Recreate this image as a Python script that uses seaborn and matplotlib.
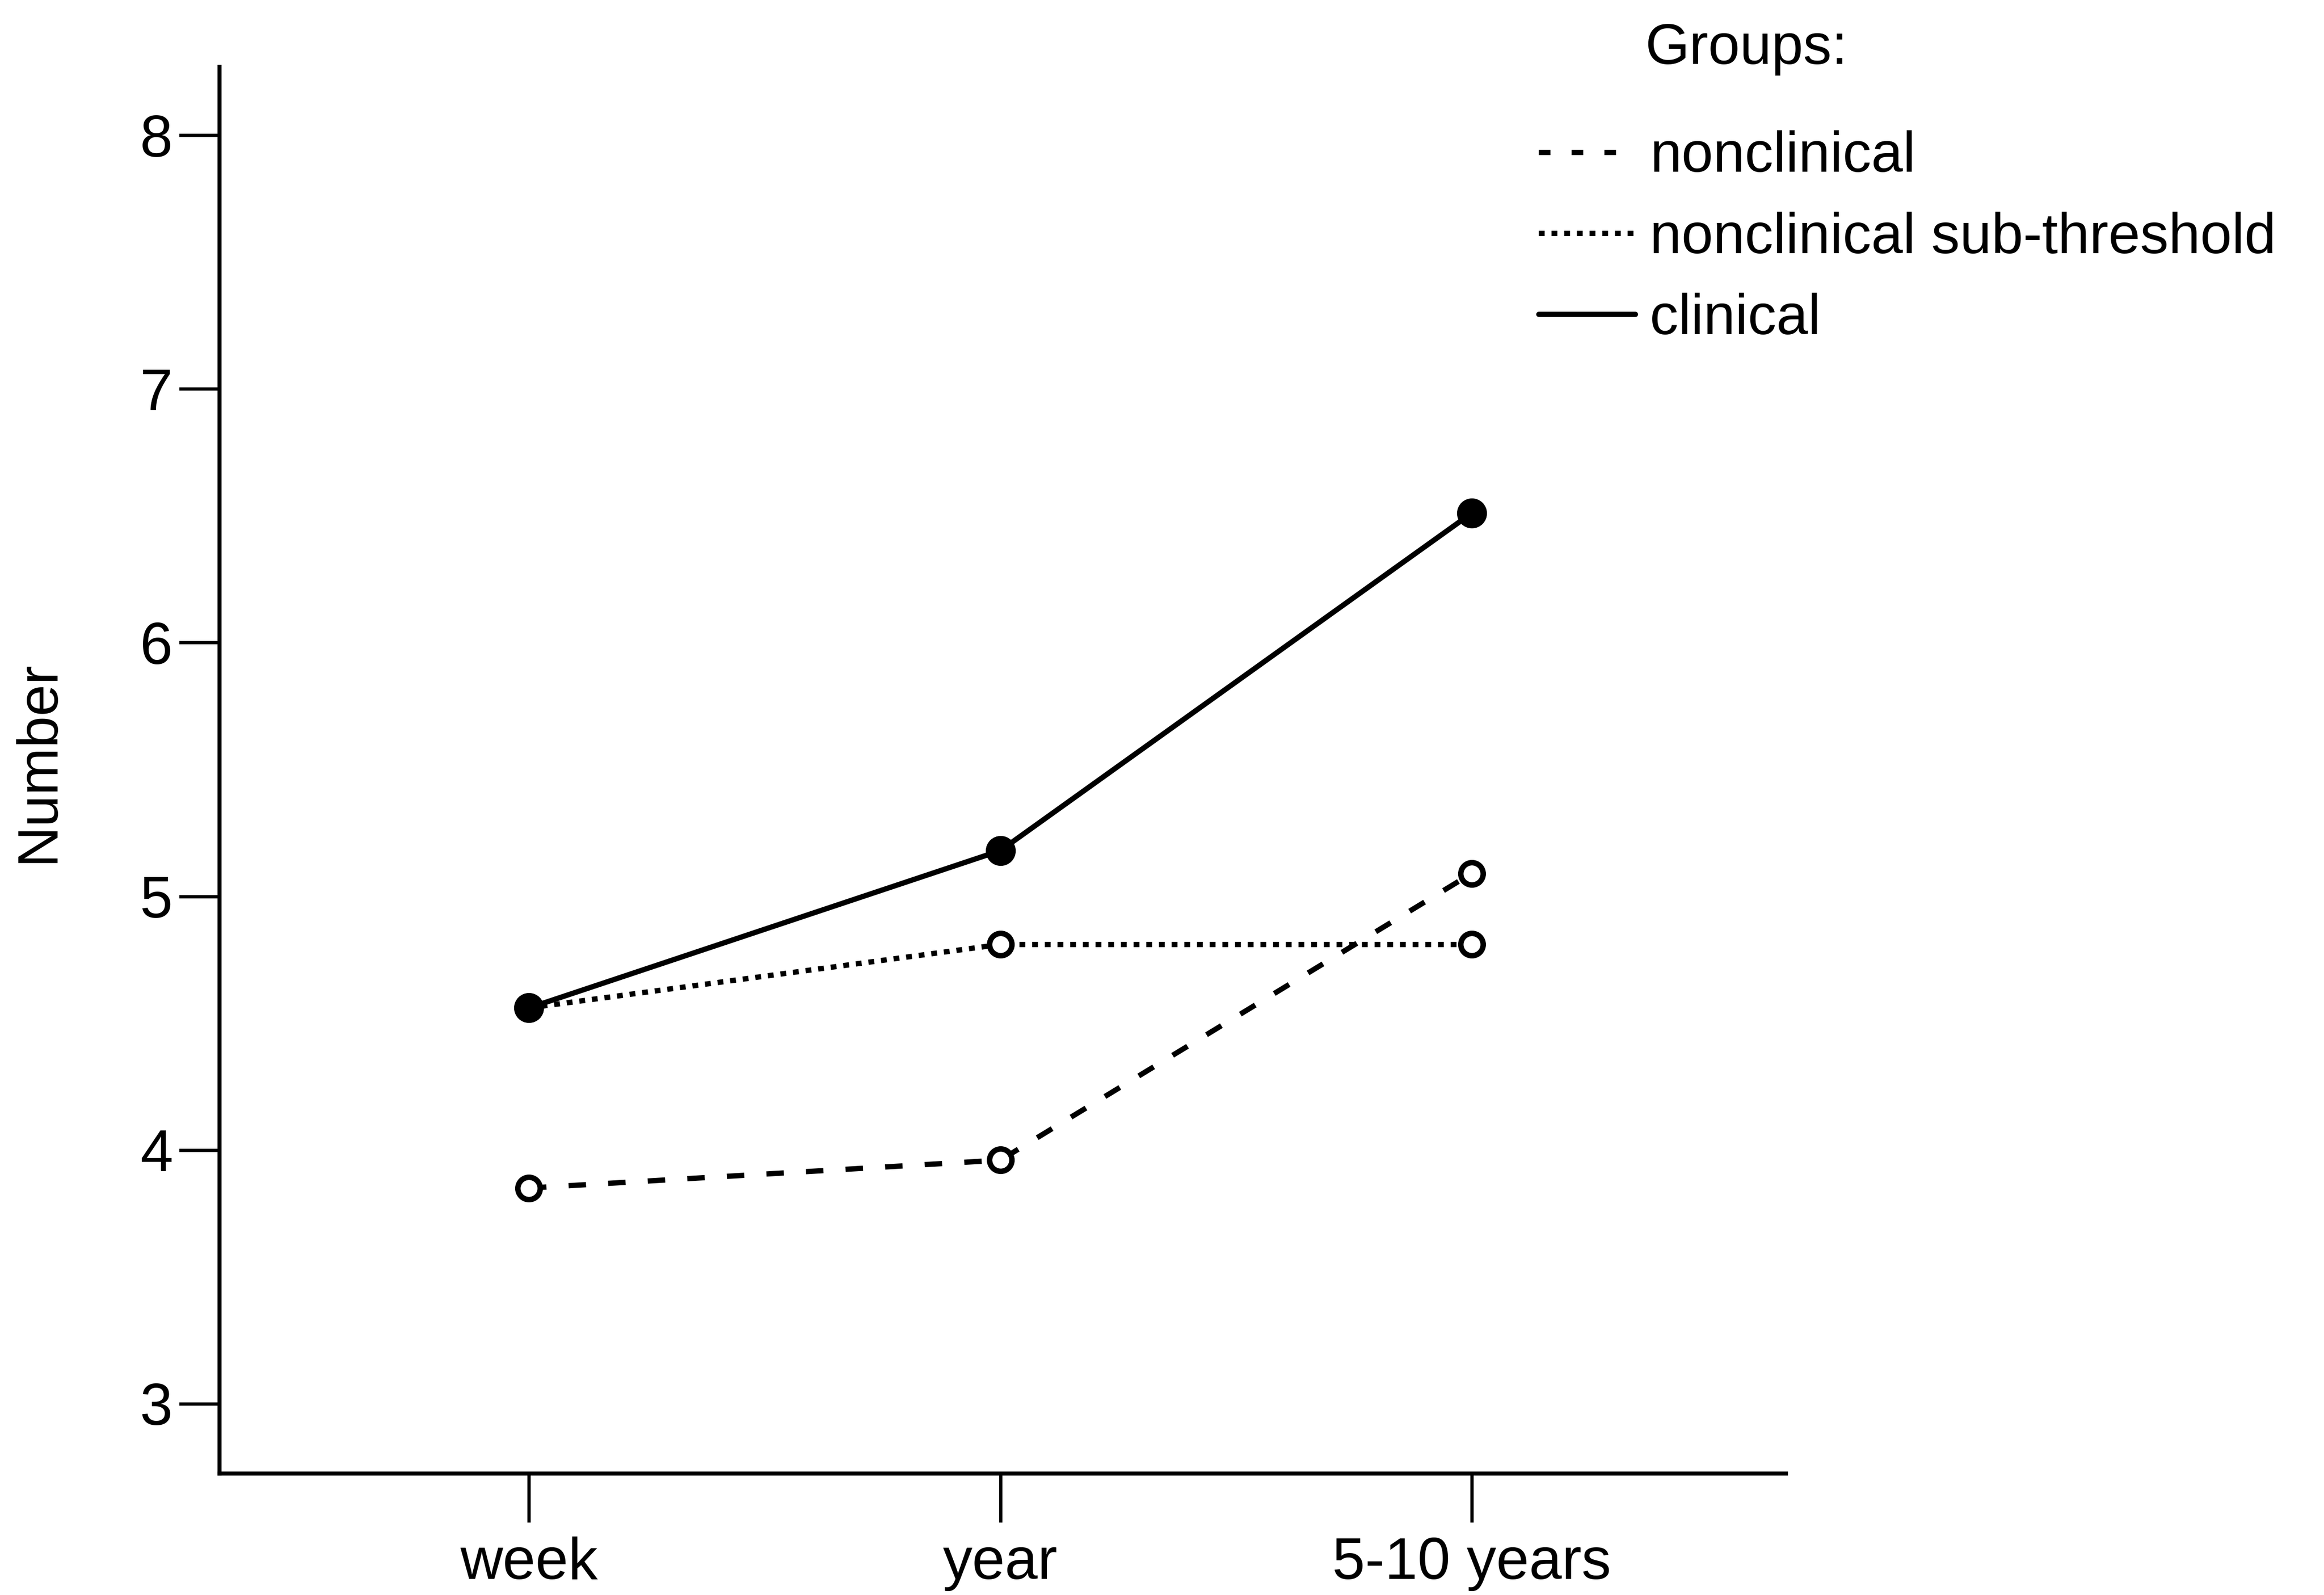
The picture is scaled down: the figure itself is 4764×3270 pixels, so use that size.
import matplotlib
matplotlib.use("Agg")
import matplotlib.pyplot as plt
import seaborn as sns
import pandas as pd
from matplotlib.lines import Line2D

# Data
time_points = ["week", "year", "5-10 years"]
nonclinical = [3.85, 3.96, 5.09]
subthreshold = [4.56, 4.81, 4.81]
clinical = [4.56, 5.18, 6.51]
y_ticks = [3, 4, 5, 6, 7, 8]
group_names = ["nonclinical", "nonclinical sub-threshold", "clinical"]

sns.set_theme(style="ticks")
plt.rcParams['font.family'] = ['Liberation Sans', 'DejaVu Sans']
plt.rcParams['text.color'] = 'black'
plt.rcParams['axes.labelcolor'] = 'black'

fig = plt.figure(figsize=(15.88, 10.9), dpi=300)
ax = fig.add_axes([0.0944, 0.0762, 0.6741, 0.882])

x_pos = list(range(len(time_points)))
df_nc = pd.DataFrame({"x": x_pos, "y": nonclinical})
df_st = pd.DataFrame({"x": x_pos, "y": subthreshold})
df_cl = pd.DataFrame({"x": x_pos, "y": clinical})

lw = 2.6
sns.lineplot(data=df_nc, x="x", y="y", ax=ax, color="black", lw=lw,
             marker="o", markersize=11, markerfacecolor="white",
             markeredgecolor="black", markeredgewidth=2.7, zorder=3)
ax.lines[-1].set_dashes((3.3, 4.2))
sns.lineplot(data=df_st, x="x", y="y", ax=ax, color="black", lw=lw,
             marker="o", markersize=11, markerfacecolor="white",
             markeredgecolor="black", markeredgewidth=2.7, zorder=3)
ax.lines[-1].set_dashes((1.1, 1.3))
sns.lineplot(data=df_cl, x="x", y="y", ax=ax, color="black", lw=lw,
             marker="o", markersize=14, markerfacecolor="black",
             markeredgecolor="black", zorder=4)

ax.set_xlim(-0.657, 2.667)
ax.set_ylim(2.725, 8.27)
ax.set_xticks(x_pos)
ax.set_xticklabels(time_points)
ax.set_yticks(y_ticks)
ax.set_yticklabels([str(t) for t in y_ticks])

for s in ["top", "right"]:
    ax.spines[s].set_visible(False)
for s in ["left", "bottom"]:
    ax.spines[s].set_linewidth(2.0)
    ax.spines[s].set_color("black")

ax.tick_params(axis="both", direction="out", width=1.6,
               color="black", labelsize=29, labelcolor="black")
ax.tick_params(axis="y", length=20, pad=3)
ax.tick_params(axis="x", length=24, pad=7)
ax.set_xlabel("")
ax.set_ylabel("Number", fontsize=28, color="black")
ax.yaxis.set_label_coords(-0.0985, 0.506)

handles = [
    Line2D([], [], color="black", lw=lw, dashes=(2.2, 4.0)),
    Line2D([], [], color="black", lw=lw, dashes=(1.1, 1.3)),
    Line2D([], [], color="black", lw=lw),
]
leg = ax.legend(handles, group_names, loc="upper left",
                bbox_to_anchor=(1038 / 1568, 1 - 88 / 1076),
                bbox_transform=fig.transFigure, frameon=False,
                fontsize=28, handlelength=1.7, handletextpad=0.26,
                labelspacing=0.49, borderaxespad=0, borderpad=0)
for t in leg.get_texts():
    t.set_color("black")
fig.text(1110 / 1568, 1 - 33 / 1076, "Groups:", fontsize=28,
         ha="left", va="center", color="black")

fig.savefig("out.png", dpi=300)
